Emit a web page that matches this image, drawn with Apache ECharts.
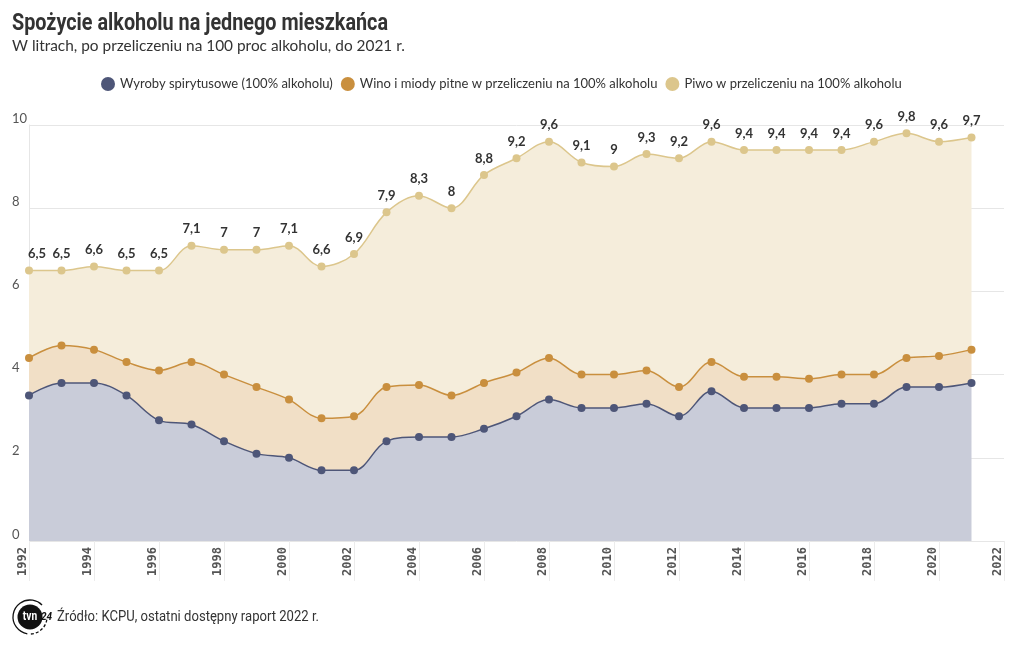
<!DOCTYPE html>
<html>
<head>
<meta charset="utf-8">
<script src="https://cdn.jsdelivr.net/npm/echarts@6/dist/echarts.min.js"></script>
<style>
  html, body { margin: 0; padding: 0; background: #fff; }
  #chart { width: 1020px; height: 650px; }
</style>
</head>
<body>
<div id="chart"></div>
<script>
// ---- data ----
const years = ['1992','1993','1994','1995','1996','1997','1998','1999','2000','2001','2002','2003','2004','2005','2006','2007','2008','2009','2010','2011','2012','2013','2014','2015','2016','2017','2018','2019','2020','2021','2022'];
const spirits = [3.5,3.8,3.8,3.5,2.9,2.8,2.4,2.1,2.0,1.7,1.7,2.4,2.5,2.5,2.7,3.0,3.4,3.2,3.2,3.3,3.0,3.6,3.2,3.2,3.2,3.3,3.3,3.7,3.7,3.8];
const wine = [0.9,0.9,0.8,0.8,1.2,1.5,1.6,1.6,1.4,1.25,1.3,1.3,1.25,1.0,1.1,1.05,1.0,0.8,0.8,0.8,0.7,0.7,0.75,0.75,0.7,0.7,0.7,0.7,0.75,0.8];
const beer = [2.1,1.8,2.0,2.2,2.4,2.8,3.0,3.3,3.7,3.65,3.9,4.2,4.55,4.5,5.0,5.15,5.2,5.1,5.0,5.2,5.5,5.3,5.45,5.45,5.5,5.4,5.6,5.4,5.15,5.1];
const yTicks = [0, 2, 4, 6, 8, 10];
const seriesNames = ['Wyroby spirytusowe (100% alkoholu)', 'Wino i miody pitne w przeliczeniu na 100% alkoholu', 'Piwo w przeliczeniu na 100% alkoholu'];
const titleText = 'Spożycie alkoholu na jednego mieszkańca';
const subtitleText = 'W litrach, po przeliczeniu na 100 proc alkoholu, do 2021 r.';
const sourceText = 'Źródło: KCPU, ostatni dostępny raport 2022 r.';

const txtFont = 'Lato, "Noto Sans", sans-serif';

const mctx = document.createElement('canvas').getContext('2d');
function fitScale(font, text, target) {
  mctx.font = font;
  return target / mctx.measureText(text).width;
}
const titleFont = 'bold 24px Roboto, sans-serif';
const sourceFont = '14px Roboto, sans-serif';
const titleScale = fitScale(titleFont, titleText, 376);
const sourceScale = fitScale(sourceFont, sourceText, 262);

function fmtTotal(i) {
  const t = spirits[i] + wine[i] + beer[i];
  let s = t.toFixed(1);
  if (s.endsWith('.0')) s = s.slice(0, -2);
  return s.replace('.', ',');
}

const chart = echarts.init(document.getElementById('chart'), null, { renderer: 'canvas' });

function mk(name, data, line, area, withLabel) {
  return {
    name: name,
    type: 'line',
    stack: 'total',
    smooth: 0.35,
    symbol: 'circle',
    symbolSize: 8,
    showSymbol: true,
    lineStyle: { color: line, width: 1.5 },
    itemStyle: { color: line },
    areaStyle: { color: area, opacity: 1 },
    emphasis: { disabled: true },
    data: data.map((v, i) => {
      const d = { value: v };
      if (withLabel && i === 0) d.label = { align: 'left', offset: [-1, 0] };
      return d;
    }),
    label: withLabel ? {
      show: true,
      position: 'top',
      distance: 6,
      fontFamily: txtFont,
      fontWeight: 'bold',
      fontSize: 13,
      color: '#333',
      formatter: p => fmtTotal(p.dataIndex)
    } : { show: false }
  };
}

chart.setOption({
  animation: false,
  backgroundColor: '#fff',
  title: [
    {
      text: subtitleText,
      left: 12, top: 39, padding: 0,
      textStyle: { fontFamily: txtFont, fontWeight: 'normal', fontSize: 15.4, color: '#333' }
    }
  ],
  legend: {
    top: 72,
    left: 96,
    icon: 'circle',
    itemWidth: 14,
    itemHeight: 14,
    itemGap: 8,
    textStyle: { fontFamily: txtFont, fontSize: 13, color: '#333' },
    data: seriesNames
  },
  grid: { left: 29, right: 16, top: 125, bottom: 109, containLabel: false },
  xAxis: {
    type: 'category',
    data: years,
    boundaryGap: false,
    axisLine: { show: false },
    axisTick: { show: true, interval: 1, length: 40, lineStyle: { color: '#ececec' } },
    axisLabel: {
      interval: 1,
      rotate: 90,
      margin: 6,
      verticalAlign: 'bottom',
      fontFamily: '"DejaVu Sans Mono", monospace',
      fontWeight: 'bold',
      fontSize: 12,
      color: '#555'
    },
    splitLine: { show: false }
  },
  yAxis: {
    type: 'value',
    min: 0, max: 10, interval: 2,
    axisLine: { show: true, lineStyle: { color: '#e6e6e6' } },
    axisTick: { show: false },
    axisLabel: {
      align: 'left',
      verticalAlign: 'bottom',
      margin: 17,
      fontFamily: txtFont,
      fontSize: 13,
      color: '#555',
      formatter: v => yTicks.includes(v) ? String(v) : ''
    },
    splitLine: { lineStyle: { color: '#e6e6e6', width: 1 } }
  },
  series: [
    mk(seriesNames[0], spirits, '#4e5678', '#c9ccd9', false),
    mk(seriesNames[1], wine, '#c98f3e', '#f1dfc6', false),
    mk(seriesNames[2], beer, '#dcc68c', '#f5eddb', true)
  ],
  graphic: [
    { type: 'text', x: 12, y: 12, scaleX: titleScale, style: { text: titleText, fill: '#333', font: titleFont, textVerticalAlign: 'top' }, z: 12 },
    { type: 'arc', shape: { cx: 30, cy: 617, r: 17, startAngle: Math.PI * 0.55, endAngle: Math.PI * 1.75 }, style: { fill: 'none', stroke: '#111', lineWidth: 1.3 }, z: 10 },
    { type: 'arc', shape: { cx: 30, cy: 617, r: 17, startAngle: Math.PI * 0.05, endAngle: Math.PI * 0.5 }, style: { fill: 'none', stroke: '#111', lineWidth: 1.3, lineDash: [3, 2] }, z: 10 },
    { type: 'circle', shape: { cx: 30, cy: 617, r: 12.5 }, style: { fill: '#111' }, z: 11 },
    { type: 'text', x: 30, y: 617, scaleX: 0.85, style: { text: 'tvn', fill: '#fff', font: 'bold 12px Roboto, sans-serif', textAlign: 'center', textVerticalAlign: 'middle' }, z: 12 },
    { type: 'text', x: 41, y: 617, style: { text: '24', fill: '#111', font: 'italic bold 10px Roboto, sans-serif', textVerticalAlign: 'middle' }, z: 12 },
    { type: 'text', x: 57, y: 617, scaleX: sourceScale, style: { text: sourceText, fill: '#333', font: sourceFont, textVerticalAlign: 'middle' }, z: 12 }
  ]
});
</script>
</body>
</html>
